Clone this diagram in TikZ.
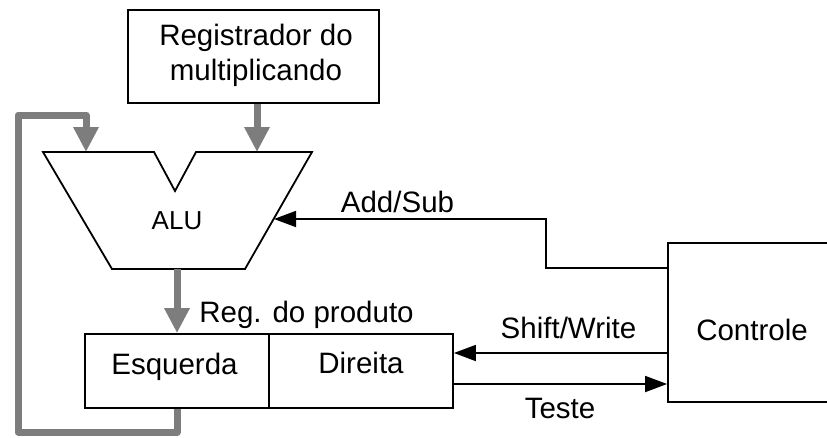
\documentclass[tikz,border=0pt]{standalone}
\usepackage{fontspec}
\setmainfont{Liberation Sans}
\usetikzlibrary{arrows.meta}
\definecolor{busgray}{RGB}{125,125,125}
\begin{document}
\begin{tikzpicture}[x=1pt,y=-1pt,
  box/.style={draw, line width=1.8pt, inner sep=0pt},
  lbl/.style={font=\fontsize{29.5}{35}\selectfont, anchor=base, inner sep=0pt, align=center},
  small/.style={font=\fontsize{26}{30}\selectfont, anchor=base, inner sep=0pt},
  bus/.style={draw=busgray, line width=7pt, line join=round, -{Triangle[width=24pt,length=25pt]}},
  sig/.style={line width=1.8pt, -{Triangle[width=16pt,length=22pt]}}]
\useasboundingbox (0,0) rectangle (827,437);
\clip (0,0) rectangle (827,437);
% boxes
\node[box, minimum width=251pt, minimum height=93pt] (mreg) at (253.5,56.5) {};
\node[box, minimum width=184pt, minimum height=74pt] (esq) at (177,371) {};
\node[box, minimum width=184pt, minimum height=74pt] (dir) at (361,371) {};
\node[box, minimum width=168pt, minimum height=159pt] (ctrl) at (752,322.5) {};
% ALU
\draw[line width=1.8pt, line join=miter] (43,152) -- (154,152) -- (175,191) -- (196,152) -- (312,152) -- (245,269) -- (112,269) -- cycle;
\coordinate (aluinA) at (86,152);
\coordinate (aluinB) at (257,152);
\coordinate (aluout) at (177,269);
\coordinate (aluctl) at (274,219);
% texts
\node[lbl] (t1) at (256,45) {Registrador do};
\node[lbl] (t2) at (256,80) {multiplicando};
\node[small] (talu) at (177,229) {ALU};
\node[lbl] (tadd) at (397.5,212) {Add/Sub};
\node[lbl] (treg) at (306.5,322) {Reg. do produto};
\node[lbl] (tesq) at (174.5,374) {Esquerda};
\node[lbl] (tdir) at (361,373) {Direita};
\node[lbl] (tsw) at (568.5,338) {Shift/Write};
\node[lbl] (tte) at (560,418) {Teste};
\node[lbl] (tct) at (752,340) {Controle};
% buses
\coordinate (fb1) at (18,432);
\coordinate (fb2) at (18,115);
\draw[bus] (mreg.south -| aluinB) -- (aluinB);
\draw[bus] (aluout) -- (esq.north -| aluout);
\draw[bus] (esq.south) |- (fb1) -- (fb2) -| (aluinA);
% signals
\coordinate (ctlA) at (668,268);
\coordinate (asbend) at (546,219);
\coordinate (ctlS) at (668,353);
\coordinate (dirT) at (453,384);
\draw[sig] (ctlA) -| (asbend) -- (aluctl);
\draw[sig] (ctlS) -- (ctlS -| dir.east);
\draw[sig] (dirT) -- (dirT -| ctrl.west);
\end{tikzpicture}
\end{document}
